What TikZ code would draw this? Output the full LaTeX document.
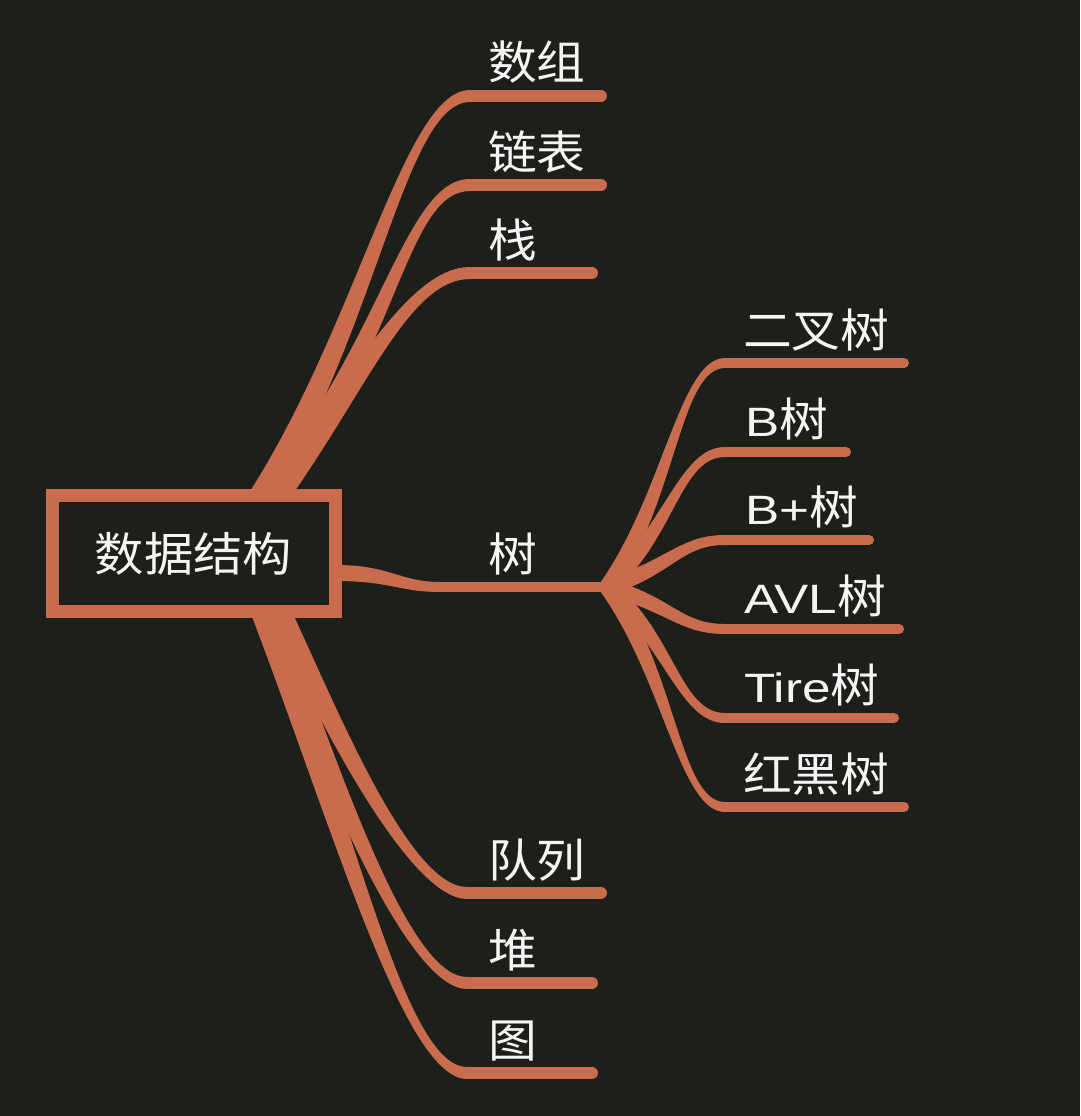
\documentclass[tikz,border=0pt]{standalone}
\usepackage{fontspec}
\setmainfont[FakeStretch=1.06]{Noto Sans CJK SC}
\newfontfamily\latn[FakeStretch=1.25]{Liberation Sans}
\newcommand{\lt}[1]{{\latn\fontsize{41}{46}\selectfont #1}}
\usetikzlibrary{calc}
\definecolor{bgc}{HTML}{1C1F1A}
\definecolor{brc}{HTML}{C96B4D}
\definecolor{txc}{HTML}{F4F4F4}
% #1 start, #2 control 1, #3 control 2, #4 bend end, #5 line end, #6 half width at start, #7 half width at end
\newcommand{\taperbranch}[7]{%
  \fill[brc] ($(#1)!#6pt!90:(#2)$) .. controls ($(#2)!#6pt!-90:(#1)$) and ($(#3)+(0,-#7)$) .. ($(#4)+(0,-#7)$)
    -- ($(#4)+(0,#7)$) .. controls ($(#3)+(0,#7)$) and ($(#2)!#6pt!90:(#1)$) .. ($(#1)!#6pt!-90:(#2)$) -- cycle;
  \draw[brc, line width=2*#7pt, line cap=round] (#4) -- (#5);
}
\begin{document}
\begin{tikzpicture}[x=1pt, y=-1pt,
  lbl/.style={anchor=base west, inner sep=0pt, text=txc, font=\fontsize{46}{50}\selectfont},
  rootbox/.style={draw=brc, line width=13pt, fill=bgc, inner sep=0pt,
    minimum width=283pt, minimum height=116pt, text=txc, font=\fontsize{46.5}{50}\selectfont}]
\fill[bgc] (0,0) rectangle (1080,1116);
\useasboundingbox (0,0) rectangle (1080,1116);

% label nodes
\node[lbl] (arr)   at (488,80)   {数组};
\node[lbl] (lnk)   at (488,169)  {链表};
\node[lbl] (stk)   at (488,257)  {栈};
\node[lbl] (tree)  at (488,571)  {树};
\node[lbl] (que)   at (488,877)  {队列};
\node[lbl] (heap)  at (488,967)  {堆};
\node[lbl] (graph) at (488,1057) {图};

\node[lbl] (bin)  at (743,347) {二叉树};
\node[lbl] (bt)   at (745,436) {\lt{B}树};
\node[lbl] (bpt)  at (745,524) {\lt{B+}树};
\node[lbl] (avl)  at (744,613) {\lt{AVL}树};
\node[lbl] (tire) at (744,702) {\lt{Tire}树};
\node[lbl] (rb)   at (743,791) {红黑树};

% connector points
\coordinate (rA) at (260,496); \coordinate (rB) at (268,496); \coordinate (rC) at (278,496);
\coordinate (rD) at (280,612); \coordinate (rE) at (270,612); \coordinate (rF) at (262,612);
\coordinate (rT) at (336,573);
\coordinate (hub) at (607,587);

\coordinate (arrS) at (470,96);   \coordinate (arrE) at (601,96);
\coordinate (lnkS) at (470,185);  \coordinate (lnkE) at (601,185);
\coordinate (stkS) at (470,273);  \coordinate (stkE) at (592,273);
\coordinate (treeS) at (440,587);
\coordinate (queS) at (467,893);  \coordinate (queE) at (601,893);
\coordinate (heapS) at (467,983); \coordinate (heapE) at (592,983);
\coordinate (graS) at (467,1073); \coordinate (graE) at (592,1073);

% main branches
\taperbranch{rA}{368,326}{405,96}{arrS}{arrE}{11}{6}
\taperbranch{rB}{390,350}{405,185}{lnkS}{lnkE}{11}{6}
\taperbranch{rC}{360,380}{410,273}{stkS}{stkE}{11}{6}
\taperbranch{rD}{330,720}{410,893}{queS}{queE}{11}{6}
\taperbranch{rE}{335,790}{410,983}{heapS}{heapE}{11}{6}
\taperbranch{rF}{345,830}{405,1073}{graS}{graE}{11}{6}
\taperbranch{rT}{390,573}{400,587}{treeS}{hub}{8}{5}

% tree children
\foreach \nm/\yy/\ex in {bin/363/904, bt/452/846, bpt/540/869, avl/629/899, tire/718/894, rb/807/904}{
  \coordinate (\nm S) at (725,\yy);
  \coordinate (\nm E) at (\ex,\yy);
  \pgfmathsetmacro{\cy}{587+0.4*(\yy-587)}
  \taperbranch{hub}{670,\cy}{680,\yy}{\nm S}{\nm E}{8}{5}
}

% root
\node[rootbox] (root) at (193.5,553.5) {数据结构};
\end{tikzpicture}
\end{document}
